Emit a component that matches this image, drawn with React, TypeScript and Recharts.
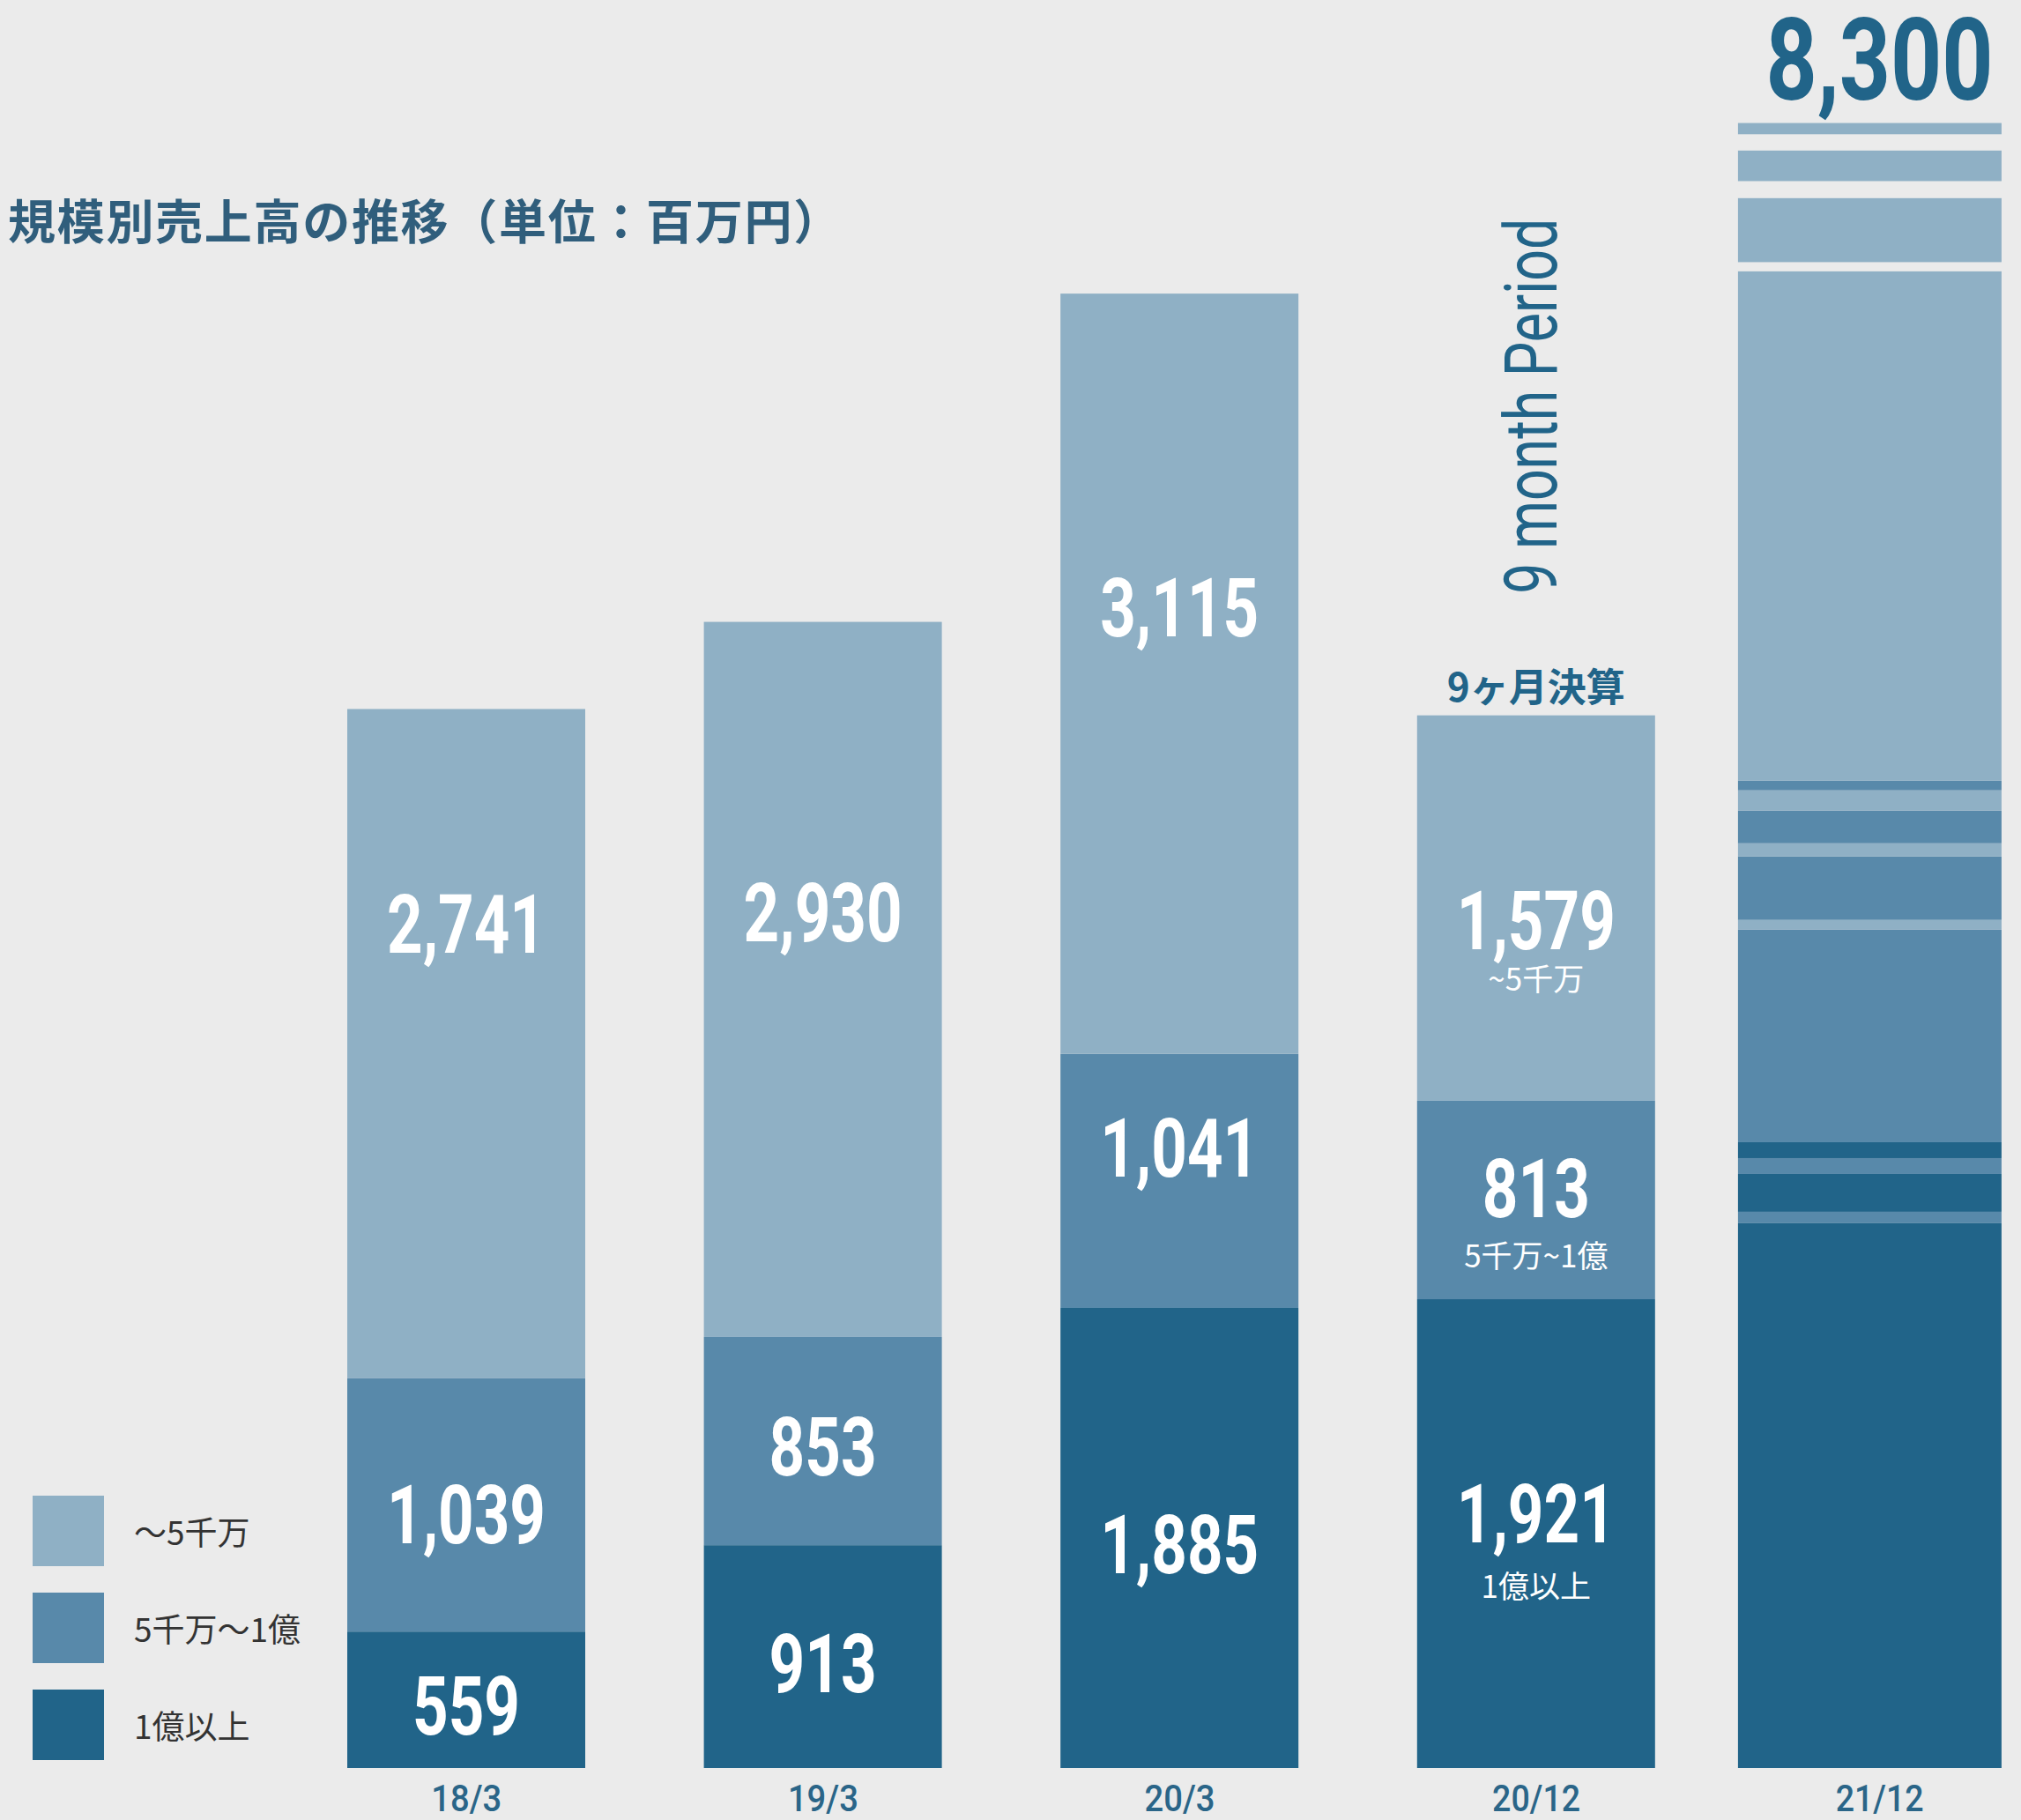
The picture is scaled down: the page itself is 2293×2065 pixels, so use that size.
import React from 'react'
import { BarChart, Bar, XAxis, YAxis, Legend } from 'recharts'

// 売上高（百万円）
const categories = ['18/3', '19/3', '20/3', '20/12', '21/12']
const largeClients = [559, 913, 1885, 1921] // 1億以上
const midClients = [1039, 853, 1041, 813] // 5千万〜1億
const smallClients = [2741, 2930, 3115, 1579] // 〜5千万

// 21/12 is drawn as a striped bar with a broken scale near the top (bottom -> top)
const stripeValues21 = [2232, 47, 155, 65, 65, 871, 40, 260, 54, 134, 83, 40, 2087, 37, 263, 69, 126, 66, 46]
const stripeTiers21 = ['large', 'mid', 'large', 'mid', 'large', 'mid', 'small', 'mid', 'small', 'mid', 'small', 'mid', 'small', 'gap', 'small', 'gap', 'small', 'gap', 'small']
const total21 = 8300

const tierKeys = ['large', 'mid', 'small']
const inBarLabels = ['1億以上', '5千万~1億', '~5千万']
const legendTiers = ['small', 'mid', 'large']
const legendLabels = ['〜5千万', '5千万〜1億', '1億以上']

const BG = '#ebebeb'
const COLORS: Record<string, string> = {
    large: '#216489',
    mid: '#5889aa',
    small: '#8fb0c5',
    gap: BG,
}

// hand placed labels in the original: shift from segment middle
const LABEL_SHIFT = [
    [6, 11, -136],
    [7, 6, -76],
    [7, -38, -75],
    [-23, -13, 14],
]
const SUB_GAP = [83, 77, 67]

// the last (wider) bar sits a bit closer to 20/12 than the even spacing
const LAST_BAR_SHIFT = -26
const LAST_TEXT_SHIFT = -15

const segCount = stripeValues21.length

const data = categories.map((name, i) => {
    const row: any = { name }
    if (i < largeClients.length) {
        row.seg0 = largeClients[i]
        row.seg1 = midClients[i]
        row.seg2 = smallClients[i]
    } else {
        stripeValues21.forEach((v, k) => { row[`seg${k}`] = v })
    }
    return row
})

const tierOf = (cat: number, seg: number) => cat < largeClients.length ? tierKeys[seg] : stripeTiers21[seg]

const numFont = 'Roboto, "Noto Sans", sans-serif'
const jpFont = '"Noto Sans CJK JP", "Noto Sans", sans-serif'

const makeShape = (seg: number) => (props: any) => {
    const { x, y, width, height, payload } = props
    if (!payload || !height || height <= 0 || isNaN(y)) return <g />
    const cat = categories.indexOf(payload.name)
    const tier = tierOf(cat, seg)
    if (!tier) return <g />
    const wide = payload.name === '21/12'
    const bx = wide ? x - 14.5 + LAST_BAR_SHIFT : x
    const bw = wide ? width + 29 : width
    const bh = wide && seg === 0 ? height + 5 : height
    const cx = x + width / 2

    const parts: React.ReactNode[] = [
        <rect key='r' x={bx} y={y} width={bw} height={bh} fill={COLORS[tier]} />,
    ]

    if (cat < largeClients.length && seg < 3) {
        const value = payload[`seg${seg}`] as number
        const txt = value.toLocaleString('en-US')
        const cy = y + height / 2 + LABEL_SHIFT[cat][seg]
        parts.push(
            <text key='v' x={cx} y={cy + 33} textAnchor='middle' fill='#ffffff'
                fontSize={92} fontWeight={700} fontFamily={numFont}
                textLength={txt.length >= 5 ? 180 : 122} lengthAdjust='spacingAndGlyphs'>{txt}</text>
        )
        if (cat === 3) {
            parts.push(
                <text key='s' x={cx} y={cy + SUB_GAP[seg] + 13} textAnchor='middle' fill='#ffffff'
                    fontSize={35} fontFamily={jpFont}>{inBarLabels[seg]}</text>
            )
        }
        if (cat === 3 && seg === 2) {
            parts.push(
                <text key='n' x={cx} y={y - 16} textAnchor='middle' fill='#216489'
                    fontSize={44} fontWeight={700} fontFamily={jpFont}>9ヶ月決算</text>
            )
            const px = cx + 23
            const py = y - 351
            parts.push(
                <text key='p' x={px} y={py} textAnchor='middle' fill='#216489'
                    fontSize={84} fontWeight={400} fontFamily={numFont}
                    textLength={426} lengthAdjust='spacingAndGlyphs'
                    transform={`rotate(-90, ${px}, ${py})`}>9 month Period</text>
            )
        }
    }

    if (wide && seg === segCount - 1) {
        parts.push(
            <text key='t' x={cx + LAST_TEXT_SHIFT} y={y - 27} textAnchor='middle' fill='#216489'
                fontSize={130} fontWeight={700} fontFamily={numFont}
                textLength={258} lengthAdjust='spacingAndGlyphs'>{total21.toLocaleString('en-US')}</text>
        )
    }

    return <g>{parts}</g>
}

const AxisTick = ({ x, y, payload }: any) => {
    const tx = payload.value === '21/12' ? x + LAST_TEXT_SHIFT : x
    return (
        <text x={tx} y={y + 49} textAnchor='middle' fill='#2a6588' fontSize={42} fontWeight={500}
            fontFamily={numFont} textLength={payload.value.length * 20} lengthAdjust='spacingAndGlyphs'>
            {payload.value}
        </text>
    )
}

const LegendBox = () => (
    <div>
        {legendTiers.map((t, i) => (
            <div key={t} style={{ display: 'flex', alignItems: 'center', height: 80, marginBottom: 30 }}>
                <div style={{ width: 81, height: 80, background: COLORS[t] }} />
                <span style={{ marginLeft: 34, fontSize: 37, color: '#333333', fontFamily: jpFont, whiteSpace: 'nowrap' }}>
                    {legendLabels[i]}
                </span>
            </div>
        ))}
    </div>
)

const App = () => {
    return (
        <div style={{ position: 'relative', width: 2293, height: 2065, background: BG, overflow: 'hidden' }}>
            <style>{'body{margin:0;background:#ebebeb}'}</style>
            <BarChart width={2293} height={2065} data={data} barSize={270}
                margin={{ top: 0, right: -57, left: 327, bottom: 0 }}>
                <XAxis dataKey='name' axisLine={false} tickLine={false} tickSize={0} tickMargin={0}
                    height={59} interval={0} tick={<AxisTick />} />
                <YAxis hide domain={[0, 7244]} allowDataOverflow />
                <Legend layout='vertical' align='center' verticalAlign='middle'
                    wrapperStyle={{ left: 37, top: 1697, width: 500 }} content={<LegendBox />} />
                {Array.from({ length: segCount }, (_, k) => (
                    <Bar key={k} dataKey={`seg${k}`} stackId='a' isAnimationActive={false}
                        shape={makeShape(k)} />
                ))}
            </BarChart>
            <svg width={2293} height={320} style={{ position: 'absolute', left: 0, top: 0, pointerEvents: 'none' }}>
                <text x={9} y={272} fontSize={54} fontWeight={700} fill='#305e7c' fontFamily={jpFont}
                    letterSpacing={1.7}>
                    規模別売上高の推移（単位：百万円）
                </text>
            </svg>
        </div>
    )
}

export default App
